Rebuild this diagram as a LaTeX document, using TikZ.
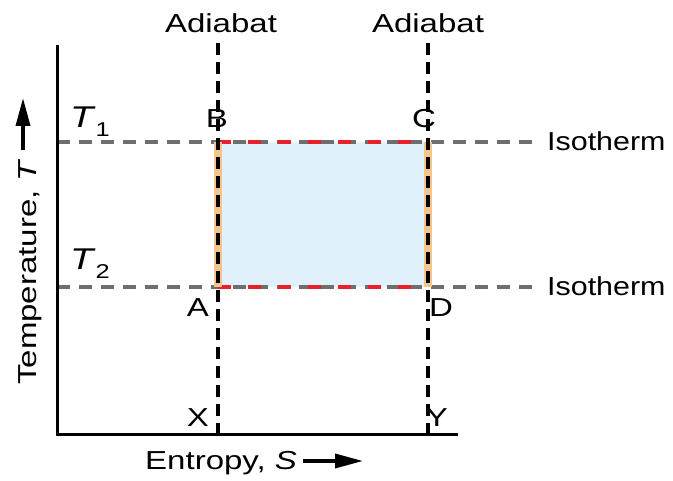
\documentclass[tikz,border=0pt]{standalone}
\usepackage{fontspec}
\setmainfont{Liberation Sans}
\usetikzlibrary{arrows.meta}

\definecolor{cyclefill}{HTML}{E1F1FB}
\definecolor{isogray}{HTML}{6E6E6E}
\definecolor{cyclered}{HTML}{E8202A}
\definecolor{cycleorange}{HTML}{F6C58C}

% the lettering of the plot is set wide
\newcommand{\wtext}[1]{\scalebox{1.27}[1]{#1}}
\newcommand{\tsub}[1]{\wtext{\fontsize{30}{34}\selectfont\textit{T}\raisebox{-9pt}{\fontsize{20}{22}\selectfont #1}}}

\begin{document}
\begin{tikzpicture}[x=1pt, y=1pt, >=Triangle,
    lbl/.style = {font=\fontsize{26}{30}\selectfont, inner sep=0pt},
    axis/.style = {line width=3pt},
    adiabat/.style = {black, line width=4pt, dash pattern=on 12pt off 7pt},
    isotherm/.style = {isogray, line width=4pt, dash pattern=on 13pt off 9pt},
    hotedge/.style = {cyclered, line width=4pt, dash pattern=on 13pt off 17pt},
    coldedge/.style = {cycleorange, line width=8pt},
    bigarrow/.style = {->, line width=3.5pt, >={Triangle[length=28pt, width=14pt]}}]
    \useasboundingbox (0,0) rectangle (673,481);
    % Nodes

    \coordinate (O) at (57, 46);
    \coordinate (ytop) at (57, 436);
    \coordinate (xend) at (458, 46);

    \coordinate (A) at (218, 194);
    \coordinate (B) at (218, 339);
    \coordinate (C) at (428, 339);
    \coordinate (D) at (428, 194);

    \coordinate (X) at (218, 46);
    \coordinate (Y) at (428, 46);
    \coordinate (Xtop) at (218, 441);
    \coordinate (Ytop) at (428, 441);

    \coordinate (T1) at (57, 339);
    \coordinate (T2) at (57, 194);
    \coordinate (Cend) at (535, 339);
    \coordinate (Dend) at (535, 194);

    \node[lbl, anchor=base] (adia1) at (221, 448) {\wtext{Adiabat}};
    \node[lbl, anchor=base] (adia2) at (428, 448) {\wtext{Adiabat}};
    \node[lbl, anchor=base west] (iso1) at (547, 330) {\scalebox{1.17}[1]{Isotherm}};
    \node[lbl, anchor=base west] (iso2) at (547, 185) {\scalebox{1.17}[1]{Isotherm}};

    \node[lbl, anchor=base] (labB) at (217, 353) {\wtext{B}};
    \node[lbl, anchor=base] (labC) at (424, 353) {\wtext{C}};
    \node[lbl, anchor=base] (labA) at (198, 164) {\wtext{A}};
    \node[lbl, anchor=base] (labD) at (441, 164) {\wtext{D}};
    \node[lbl, anchor=base] (labX) at (198, 54) {\wtext{X}};
    \node[lbl, anchor=base] (labY) at (437, 54) {\wtext{Y}};

    \node[lbl, anchor=base west] (labT1) at (70, 353) {\tsub{1}};
    \node[lbl, anchor=base west] (labT2) at (70, 211) {\tsub{2}};

    \node[lbl, rotate=90, anchor=base west] (tlabel) at (37, 96) {\wtext{Temperature, \textit{T}}};
    \coordinate (tarrow) at (23, 383);
    \node[lbl, anchor=base west] (slabel) at (145, 11) {\wtext{Entropy, \textit{S}}};
    \coordinate (sarrow) at (363, 20);

    % Edges
    \fill[cyclefill] (A) rectangle (C);

    \draw[isotherm] (T1) -- (Cend);
    \draw[isotherm] (T2) -- (Dend);
    \draw[hotedge] (B) -- (C);
    \draw[hotedge] (A) -- (D);

    \draw[coldedge] (A) -- (B);
    \draw[coldedge] (D) -- (C);
    \draw[adiabat] (X) -- (Xtop);
    \draw[adiabat] (Y) -- (Ytop);

    \draw[axis] (ytop) -- (O) -- (xend);

    \draw[bigarrow] (tlabel.east -| tarrow) ++(0,9) -- (tarrow);
    \draw[bigarrow] ([xshift=6pt]slabel.east |- sarrow) -- (sarrow);

\end{tikzpicture}
\end{document}
